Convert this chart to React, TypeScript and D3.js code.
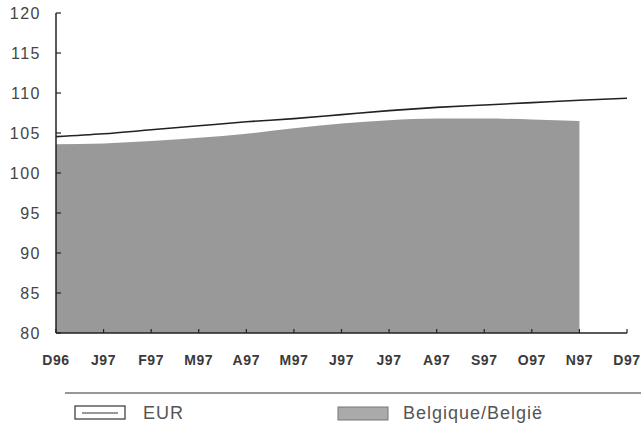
import React from "react";
import * as d3 from "d3";

const months = ["D96", "J97", "F97", "M97", "A97", "M97", "J97", "J97", "A97", "S97", "O97", "N97", "D97"];
const eurValues = [104.55, 104.9, 105.4, 105.9, 106.4, 106.8, 107.3, 107.8, 108.2, 108.5, 108.8, 109.1, 109.35];
const belgiumValues = [103.6, 103.7, 104.0, 104.4, 104.9, 105.6, 106.2, 106.6, 106.8, 106.8, 106.7, 106.5];
const yTicks = [80, 85, 90, 95, 100, 105, 110, 115, 120];
const legendLabels = ["EUR", "Belgique/België"];

const W = 641;
const H = 430;
const left = 56;
const right = 627;
const top = 13;
const bottom = 333;

export default function App() {
  const x = d3.scaleLinear().domain([0, months.length - 1]).range([left, right]);
  const y = d3.scaleLinear().domain([80, 120]).range([bottom, top]);

  const area = d3
    .area<number>()
    .x((_, i) => x(i))
    .y0(y(80))
    .y1((d) => y(d))
    .curve(d3.curveMonotoneX);
  const line = d3
    .line<number>()
    .x((_, i) => x(i))
    .y((d) => y(d))
    .curve(d3.curveMonotoneX);

  const font = "'Liberation Sans', Arial, Helvetica, sans-serif";

  return (
    <svg
      width={W}
      height={H}
      style={{ position: "absolute", left: 0, top: 0, background: "#fff" }}
      fontFamily={font}
    >
      <path d={area(belgiumValues) || ""} fill="#999" stroke="none" />
      <path d={line(eurValues) || ""} fill="none" stroke="#222" strokeWidth={1.6} />

      {/* Y axis */}
      <line x1={left} x2={left} y1={y(120)} y2={bottom} stroke="#222" strokeWidth={1.5} />
      {yTicks.map((t) => (
        <g key={t}>
          <line x1={left} x2={left + 5} y1={y(t)} y2={y(t)} stroke="#222" strokeWidth={1.2} />
          <text x={41} y={y(t)} dy="0.36em" textAnchor="end" fontSize={16} letterSpacing={1.5} fill="#444">
            {t}
          </text>
        </g>
      ))}

      {/* X axis */}
      <line x1={left} x2={right} y1={bottom} y2={bottom} stroke="#222" strokeWidth={1.5} />
      {months.map((m, i) => (
        <g key={i}>
          <line x1={x(i)} x2={x(i)} y1={bottom} y2={bottom - 4} stroke="#222" strokeWidth={1.2} />
          <text x={x(i)} y={365} textAnchor="middle" fontSize={14} fontWeight="bold" letterSpacing={0.6} fill="#3a3a3a">
            {m}
          </text>
        </g>
      ))}

      {/* Legend */}
      <line x1={65} x2={641} y1={393} y2={393} stroke="#333" strokeWidth={1.2} />
      <rect x={75} y={406} width={50} height={13} fill="#fff" stroke="#333" strokeWidth={1.2} />
      <line x1={82} x2={118} y1={413} y2={413} stroke="#333" strokeWidth={1.2} />
      <text x={143} y={419} fontSize={18} letterSpacing={1} fill="#555">
        {legendLabels[0]}
      </text>
      <rect x={338} y={407} width={50} height={13} fill="#aaa" stroke="#777" strokeWidth={1} />
      <text x={403} y={419} fontSize={18} letterSpacing={1} fill="#555">
        {legendLabels[1]}
      </text>
    </svg>
  );
}
